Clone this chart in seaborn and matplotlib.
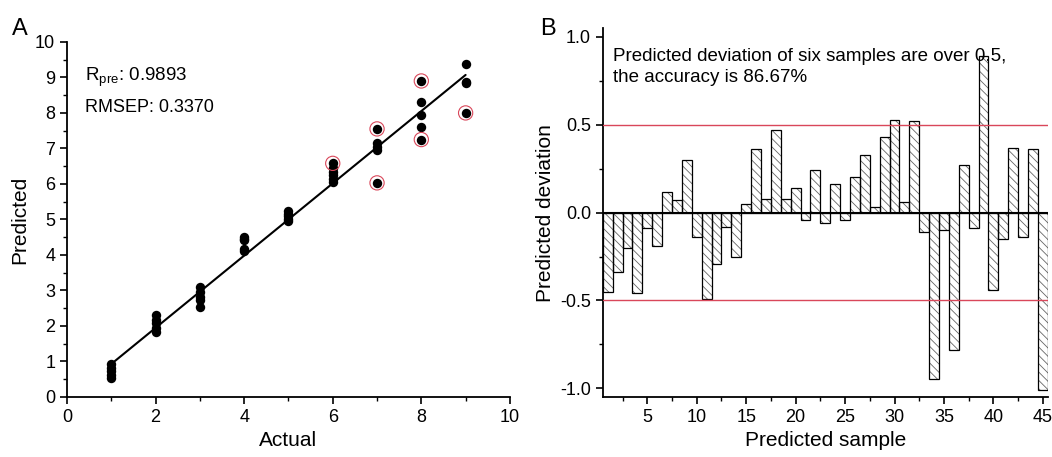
import seaborn as sns
import matplotlib.pyplot as plt
from matplotlib.ticker import MultipleLocator

# panel A: actual vs predicted values
actual = [1]*5 + [2]*5 + [3]*5 + [4]*5 + [5]*5 + [6]*6 + [7]*5 + [8]*5 + [9]*4
predicted = [0.92, 0.82, 0.72, 0.62, 0.53,
             2.31, 2.18, 2.08, 1.94, 1.83,
             3.10, 2.95, 2.83, 2.74, 2.53,
             4.51, 4.46, 4.42, 4.17, 4.12,
             5.24, 5.15, 5.10, 5.02, 4.95,
             6.58, 6.45, 6.35, 6.25, 6.15, 6.05,
             7.55, 7.15, 7.05, 6.95, 6.03,
             8.90, 8.30, 7.95, 7.60, 7.25,
             9.38, 8.88, 8.85, 8.00]
# circled outliers
outlier_x = [6, 7, 7, 8, 8, 9]
outlier_y = [6.58, 7.55, 6.03, 8.90, 7.25, 8.00]
# regression line
fit_x = [1, 9]
fit_y = [0.93, 9.07]

# panel B: deviation for each predicted sample
samples = list(range(1, 46))
deviation = [-0.45, -0.34, -0.20, -0.46, -0.09, -0.19, 0.12, 0.07, 0.30, -0.14,
             -0.49, -0.29, -0.08, -0.25, 0.05, 0.36, 0.08, 0.47, 0.08, 0.14,
             -0.04, 0.24, -0.06, 0.16, -0.04, 0.20, 0.33, 0.03, 0.43, 0.53,
             0.06, 0.52, -0.11, -0.95, -0.10, -0.78, 0.27, -0.09, 0.89, -0.44,
             -0.15, 0.37, -0.14, 0.36, -1.01]

sns.set_theme(style="ticks")
plt.rcParams['font.family'] = ['Liberation Sans', 'DejaVu Sans']
plt.rcParams['mathtext.default'] = 'regular'
plt.rcParams['hatch.linewidth'] = 0.6
plt.rcParams['text.color'] = 'black'
plt.rcParams['axes.labelcolor'] = 'black'

fig = plt.figure(figsize=(10.52, 4.57), dpi=100)
ax1 = fig.add_axes([0.0637, 0.1313, 0.421, 0.777])
ax2 = fig.add_axes([0.573, 0.1313, 0.423, 0.807])

red = '#d9475a'

# ---- panel A
sns.lineplot(x=fit_x, y=fit_y, color='black', linewidth=1.5, ax=ax1)
sns.scatterplot(x=actual, y=predicted, color='black', s=46, edgecolor='black',
                linewidth=0, ax=ax1, zorder=3)
sns.scatterplot(x=outlier_x, y=outlier_y, marker='o', facecolors='none',
                edgecolor=red, s=105, linewidth=0.8, ax=ax1, zorder=4)
ax1.set_xlim(0, 10)
ax1.set_ylim(0, 10)
ax1.xaxis.set_major_locator(MultipleLocator(2))
ax1.xaxis.set_minor_locator(MultipleLocator(1))
ax1.yaxis.set_major_locator(MultipleLocator(1))
ax1.yaxis.set_minor_locator(MultipleLocator(0.5))
ax1.set_xlabel("Actual", fontsize=15)
ax1.set_ylabel("Predicted", fontsize=15)
ax1.text(0.04, 0.899, "R$_{pre}$: 0.9893", transform=ax1.transAxes,
         fontsize=13.5, va='center')
ax1.text(0.04, 0.814, "RMSEP: 0.3370", transform=ax1.transAxes,
         fontsize=13, va='center')

# ---- panel B
# hatched fill first, then black outlines on top
sns.barplot(x=samples, y=deviation, native_scale=True, width=1, errorbar=None,
            color='white', edgecolor='0.4', linewidth=0, hatch='\\\\\\\\',
            saturation=1, ax=ax2)
sns.barplot(x=samples, y=deviation, native_scale=True, width=1, errorbar=None,
            fill=False, color='black', linewidth=0.9, ax=ax2)
ax2.axhline(0, color='black', linewidth=1.5, zorder=5)
ax2.axhline(0.5, color=red, linewidth=1.0, zorder=5)
ax2.axhline(-0.5, color=red, linewidth=1.0, zorder=5)
ax2.set_xlim(0.5, 45.5)
ax2.set_ylim(-1.05, 1.05)
ax2.xaxis.set_major_locator(MultipleLocator(5))
ax2.xaxis.set_minor_locator(MultipleLocator(2.5))
ax2.yaxis.set_major_locator(MultipleLocator(0.5))
ax2.yaxis.set_minor_locator(MultipleLocator(0.25))
ax2.yaxis.set_major_formatter(plt.FormatStrFormatter('%.1f'))
ax2.set_xlabel("Predicted sample", fontsize=15)
ax2.set_ylabel("Predicted deviation", fontsize=15)
ax2.text(0.022, 0.945, "Predicted deviation of six samples are over 0.5,\nthe accuracy is 86.67%",
         transform=ax2.transAxes, fontsize=13.5, va='top', linespacing=1.25)

for ax in (ax1, ax2):
    sns.despine(ax=ax)
    for sp in ax.spines.values():
        sp.set_linewidth(1.3)
        sp.set_color('black')
    ax.tick_params(which='major', direction='out', length=5, width=1.2,
                   labelsize=13, colors='black')
    ax.tick_params(which='minor', direction='out', length=3, width=1.0,
                   colors='black')

fig.text(0.011, 0.937, "A", fontsize=17, va='center')
fig.text(0.513, 0.937, "B", fontsize=17, va='center')

fig.savefig("out.png", dpi=100)
